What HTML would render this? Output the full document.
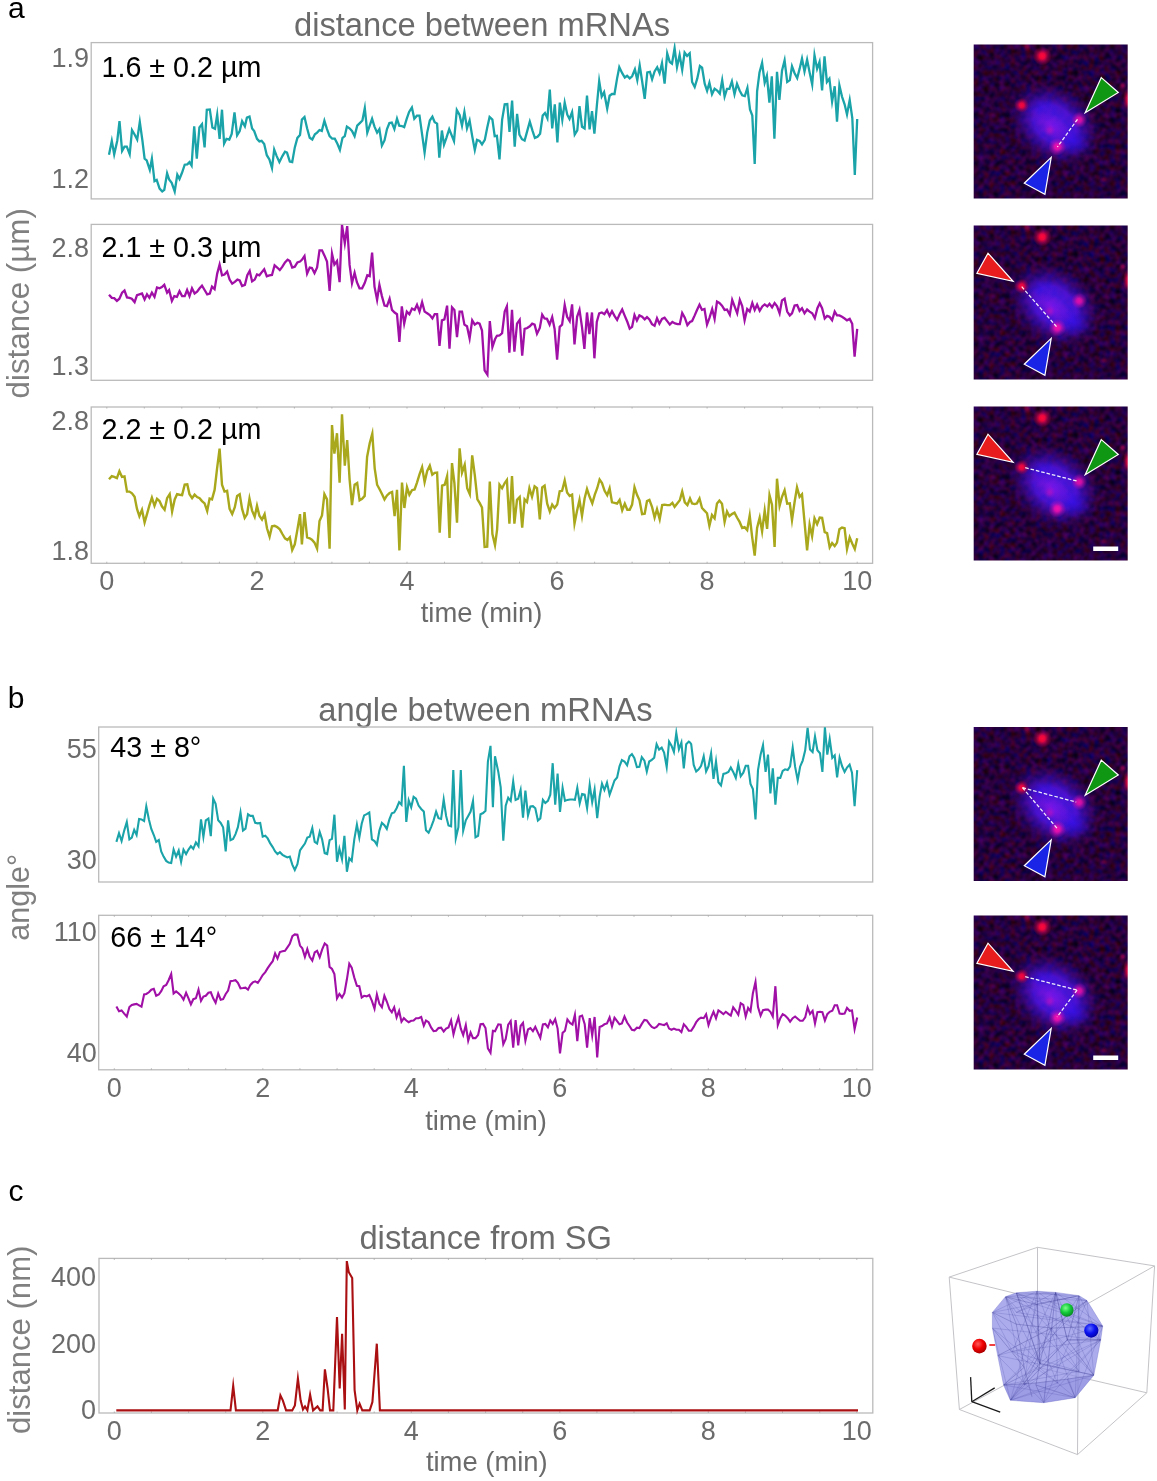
<!DOCTYPE html>
<html lang="en"><head><meta charset="utf-8"><title>mRNA distance and angle figure</title>
<style>html,body{margin:0;padding:0;background:#fff}body{width:1157px;height:1481px;overflow:hidden}svg{display:block}text{font-family:"Liberation Sans", Arial, sans-serif}</style>
</head><body>
<svg width="1157" height="1481" viewBox="0 0 1157 1481">
<defs>
<filter id="noise" x="0" y="0" width="100%" height="100%" color-interpolation-filters="sRGB">
  <feTurbulence type="fractalNoise" baseFrequency="0.19" numOctaves="2" seed="7" result="t"/>
  <feColorMatrix in="t" type="matrix" values="0.42 0 0 0 -0.095  0 0 0 0 0  0 0 0.5 0 -0.07  0 0 0 0 1" result="c"/>
  <feGaussianBlur in="c" stdDeviation="0.9"/>
</filter>
<radialGradient id="gBlob">
  <stop offset="0" stop-color="#4a1af0" stop-opacity="0.95"/>
  <stop offset="0.45" stop-color="#4414e4" stop-opacity="0.85"/>
  <stop offset="0.72" stop-color="#3a0cc0" stop-opacity="0.45"/>
  <stop offset="1" stop-color="#300890" stop-opacity="0"/>
</radialGradient>
<radialGradient id="gMag">
  <stop offset="0" stop-color="#a012e4" stop-opacity="0.55"/>
  <stop offset="1" stop-color="#9010d0" stop-opacity="0"/>
</radialGradient>
<radialGradient id="gBlue">
  <stop offset="0" stop-color="#2a10f0" stop-opacity="0.7"/>
  <stop offset="1" stop-color="#2a10e0" stop-opacity="0"/>
</radialGradient>
<radialGradient id="gRed">
  <stop offset="0" stop-color="#ff0830" stop-opacity="1"/>
  <stop offset="0.3" stop-color="#ff0630" stop-opacity="0.9"/>
  <stop offset="0.62" stop-color="#f00430" stop-opacity="0.42"/>
  <stop offset="1" stop-color="#e00030" stop-opacity="0"/>
</radialGradient>
<radialGradient id="gPink">
  <stop offset="0" stop-color="#ff10a8" stop-opacity="1"/>
  <stop offset="0.3" stop-color="#ff10a8" stop-opacity="0.85"/>
  <stop offset="0.62" stop-color="#f010b0" stop-opacity="0.4"/>
  <stop offset="1" stop-color="#e010b0" stop-opacity="0"/>
</radialGradient>
<radialGradient id="sR" cx="0.4" cy="0.35" r="0.7"><stop offset="0" stop-color="#ff5a5a"/><stop offset="0.5" stop-color="#f00000"/><stop offset="1" stop-color="#a00000"/></radialGradient>
<radialGradient id="sG" cx="0.4" cy="0.35" r="0.7"><stop offset="0" stop-color="#7dff8d"/><stop offset="0.5" stop-color="#14cc3c"/><stop offset="1" stop-color="#088020"/></radialGradient>
<radialGradient id="sB" cx="0.4" cy="0.35" r="0.7"><stop offset="0" stop-color="#5a6aff"/><stop offset="0.5" stop-color="#0a10f0"/><stop offset="1" stop-color="#0000a0"/></radialGradient>
<clipPath id="imclip"><rect x="0" y="0" width="154" height="154"/></clipPath>
<g id="micro" clip-path="url(#imclip)">
  <rect x="0" y="0" width="154" height="154" fill="#000"/>
  <rect x="-4" y="-4" width="162" height="162" filter="url(#noise)"/>
  <g transform="translate(81,80) rotate(36)">
    <ellipse cx="0" cy="0" rx="50" ry="38" fill="url(#gBlob)"/>
    <ellipse cx="-2" cy="3" rx="26" ry="12" fill="url(#gMag)"/>
    <ellipse cx="25" cy="2" rx="17" ry="14" fill="url(#gBlue)"/>
    <ellipse cx="-20" cy="-6" rx="16" ry="13" fill="url(#gBlue)" opacity="0.6"/>
  </g>
  <circle cx="68.5" cy="11.5" r="9.5" fill="url(#gRed)"/>
  <circle cx="53" cy="2" r="5" fill="url(#gRed)" opacity="0.4"/>
  <circle cx="48" cy="60.8" r="7.5" fill="url(#gRed)" opacity="0.95"/>
  <circle cx="105.5" cy="75.3" r="8" fill="url(#gPink)" opacity="0.85"/>
  <circle cx="83.6" cy="102.3" r="9" fill="url(#gPink)" opacity="0.95"/>
  <circle cx="76" cy="86" r="6" fill="url(#gPink)" opacity="0.35"/>
  <ellipse cx="154" cy="55" rx="5" ry="11" fill="url(#gRed)" opacity="0.75"/>
  <circle cx="149" cy="41" r="4" fill="url(#gRed)" opacity="0.4"/>
  <circle cx="130" cy="135" r="4" fill="url(#gRed)" opacity="0.25"/>
  <rect x="-4" y="-4" width="162" height="162" filter="url(#noise)" style="mix-blend-mode:screen" opacity="0.35"/>
</g>
<polygon id="arrG" points="127.6,33.1 144.6,48.0 111.5,68.2" fill="#0f9612" stroke="#fff" stroke-width="1.2" stroke-linejoin="miter"/>
<polygon id="arrB" points="77.5,112.9 50.6,138.7 71.2,149.9" fill="#1a24e6" stroke="#fff" stroke-width="1.2" stroke-linejoin="miter"/>
<polygon id="arrR" points="14.3,27.7 3.2,47.8 39.4,55.8" fill="#e81c1c" stroke="#fff" stroke-width="1.2" stroke-linejoin="miter"/>
<rect id="sbar" x="119.5" y="140" width="25" height="4.5" fill="#fff"/>
</defs>
<text x="8.0" y="18.3" font-size="30.0" fill="#000" text-anchor="start">a</text>
<text x="482.0" y="35.5" font-size="32.7" fill="#6b6b6b" text-anchor="middle">distance between mRNAs</text>
<rect x="91.2" y="42.6" width="781.4" height="156.3" fill="none" stroke="#bababa" stroke-width="1.3"/>
<rect x="91.2" y="224.4" width="781.4" height="155.9" fill="none" stroke="#bababa" stroke-width="1.3"/>
<rect x="91.2" y="407.0" width="781.4" height="156.3" fill="none" stroke="#bababa" stroke-width="1.3"/>
<path d="M106.8 563.3v-1.6M106.8 407.0v1.6M144.3 563.3v-1.6M144.3 407.0v1.6M181.8 563.3v-1.6M181.8 407.0v1.6M219.4 563.3v-1.6M219.4 407.0v1.6M256.9 563.3v-1.6M256.9 407.0v1.6M294.4 563.3v-1.6M294.4 407.0v1.6M331.9 563.3v-1.6M331.9 407.0v1.6M369.4 563.3v-1.6M369.4 407.0v1.6M407.0 563.3v-1.6M407.0 407.0v1.6M444.5 563.3v-1.6M444.5 407.0v1.6M482.0 563.3v-1.6M482.0 407.0v1.6M519.5 563.3v-1.6M519.5 407.0v1.6M557.0 563.3v-1.6M557.0 407.0v1.6M594.6 563.3v-1.6M594.6 407.0v1.6M632.1 563.3v-1.6M632.1 407.0v1.6M669.6 563.3v-1.6M669.6 407.0v1.6M707.1 563.3v-1.6M707.1 407.0v1.6M744.6 563.3v-1.6M744.6 407.0v1.6M782.2 563.3v-1.6M782.2 407.0v1.6M819.7 563.3v-1.6M819.7 407.0v1.6M857.2 563.3v-1.6M857.2 407.0v1.6" stroke="#a4a4a4" stroke-width="0.7" fill="none"/>
<text transform="translate(29.3,303.3) rotate(-90)" font-size="31.3" fill="#808080" text-anchor="middle">distance (µm)</text>
<text x="89.0" y="67.3" font-size="27.0" fill="#6b6b6b" text-anchor="end">1.9</text>
<text x="89.0" y="188.4" font-size="27.0" fill="#6b6b6b" text-anchor="end">1.2</text>
<text x="89.0" y="256.5" font-size="27.0" fill="#6b6b6b" text-anchor="end">2.8</text>
<text x="89.0" y="374.5" font-size="27.0" fill="#6b6b6b" text-anchor="end">1.3</text>
<text x="89.0" y="430.0" font-size="27.0" fill="#6b6b6b" text-anchor="end">2.8</text>
<text x="89.0" y="560.0" font-size="27.0" fill="#6b6b6b" text-anchor="end">1.8</text>
<text x="101.5" y="77.3" font-size="28.7" fill="#000" text-anchor="start">1.6 ± 0.2 µm</text>
<text x="101.5" y="256.6" font-size="28.7" fill="#000" text-anchor="start">2.1 ± 0.3 µm</text>
<text x="101.5" y="438.9" font-size="28.7" fill="#000" text-anchor="start">2.2 ± 0.2 µm</text>
<clipPath id="cf1"><rect x="91.2" y="42.6" width="781.4" height="156.3"/></clipPath>
<polyline points="109.0,154.7 111.8,140.8 114.2,154.3 117.3,140.5 119.5,121.1 122.1,150.9 124.5,146.6 126.8,146.6 129.7,154.3 132.0,130.1 134.6,134.5 137.2,139.6 139.8,121.8 142.4,140.5 144.6,158.7 146.7,160.4 149.8,169.9 151.9,158.7 154.5,181.1 156.7,179.9 159.6,188.6 162.2,191.5 164.3,189.8 167.1,173.3 169.1,179.4 171.7,182.9 174.7,191.5 177.3,174.7 179.5,178.9 182.1,172.5 184.7,164.7 187.3,164.4 189.5,162.1 191.6,165.6 194.2,126.3 196.8,158.7 199.4,127.5 202.0,124.1 204.6,147.4 206.8,109.7 209.8,109.4 212.4,127.5 215.0,128.7 217.2,114.6 219.6,138.8 222.0,109.7 224.1,143.6 226.5,138.8 229.3,139.6 231.7,133.9 234.5,112.5 237.1,135.3 239.7,131.0 242.1,121.1 244.9,126.3 246.9,117.7 249.5,116.6 252.1,128.4 254.2,131.0 257.0,138.8 259.4,141.4 261.6,140.8 264.2,144.0 266.8,155.2 269.4,159.5 272.0,168.2 274.2,149.5 276.7,156.1 279.4,162.1 282.4,156.1 285.0,151.7 287.0,152.6 289.8,161.6 292.2,162.1 294.8,147.4 297.4,137.9 300.0,135.0 301.9,119.6 304.5,117.0 307.1,128.3 309.7,137.8 312.3,139.5 314.9,134.3 317.1,132.6 319.5,130.0 321.8,130.9 324.4,120.8 327.0,129.1 329.6,136.1 332.2,138.7 334.8,138.7 337.4,143.8 339.9,149.9 342.5,137.8 344.8,136.1 346.9,126.6 349.5,128.3 352.0,130.9 354.6,136.1 357.2,125.7 359.8,123.1 362.4,120.5 364.8,108.1 367.3,132.6 369.7,125.7 372.1,118.8 374.5,126.6 377.1,132.6 379.4,129.1 381.9,145.6 384.5,140.4 387.0,129.1 389.4,123.1 391.8,122.6 394.4,129.1 397.0,118.8 399.2,125.7 401.8,126.0 404.2,127.1 406.7,118.8 409.1,111.9 411.9,107.5 414.3,118.8 416.9,115.7 419.5,115.7 422.1,134.3 424.6,152.5 427.2,132.6 429.8,120.5 432.4,116.7 434.7,122.2 437.1,123.6 439.3,157.7 441.9,130.5 444.0,144.7 446.4,137.8 449.2,129.1 451.6,135.2 454.0,141.2 456.8,110.1 459.6,115.0 462.0,125.7 464.4,111.9 467.0,128.3 469.6,120.5 472.2,136.1 474.8,149.9 477.0,139.9 479.6,140.9 482.0,144.4 484.8,139.9 487.2,127.8 489.6,117.0 492.4,119.6 494.7,136.1 496.9,135.8 499.5,159.3 502.1,119.9 504.7,104.3 507.3,104.0 509.5,132.0 512.1,100.5 514.7,146.7 517.1,113.8 519.4,134.6 522.0,139.2 524.6,140.6 527.2,131.1 529.8,121.6 532.4,130.3 534.9,138.0 537.5,136.8 540.1,133.7 542.7,115.6 545.0,113.0 547.4,118.2 549.8,89.6 552.2,128.5 554.8,104.3 557.4,142.4 559.8,102.6 562.3,119.9 564.7,102.6 567.3,114.7 569.5,119.0 572.1,112.1 574.7,134.6 577.3,130.3 579.5,106.1 582.0,126.8 584.6,128.5 587.0,95.7 589.6,129.4 592.0,111.2 594.4,133.7 596.8,106.1 599.2,81.0 601.7,96.6 604.1,92.2 607.2,108.7 609.6,95.7 612.0,94.0 614.5,94.0 617.1,78.4 619.3,67.2 622.2,73.2 624.8,77.5 627.1,75.8 629.7,78.4 632.1,76.3 634.9,69.4 637.3,80.1 639.7,65.4 642.1,81.0 644.7,98.8 647.3,72.4 649.9,71.8 652.1,79.3 654.6,71.5 657.2,67.2 659.6,73.2 662.0,63.2 664.6,83.6 667.2,53.3 669.8,62.0 672.0,63.7 674.6,48.2 677.0,67.2 679.6,55.1 682.2,69.8 684.6,52.5 687.1,55.9 689.7,53.3 692.1,81.9 694.7,87.0 697.3,78.4 699.9,66.0 702.1,67.7 704.7,83.6 707.1,90.8 709.4,82.7 712.0,94.3 714.6,88.8 717.2,90.5 719.8,93.6 722.2,80.1 724.6,96.6 727.0,88.8 729.4,88.8 731.9,81.5 734.5,94.3 737.0,83.9 739.6,90.5 742.2,95.3 744.8,96.0 747.4,87.9 750.0,109.5 752.3,115.6 754.7,164.0 757.1,91.4 759.5,72.4 762.1,62.8 764.7,82.7 766.9,75.8 769.4,102.6 771.8,76.3 774.4,138.6 777.0,71.8 779.4,100.0 782.0,70.6 784.6,60.3 787.2,81.9 789.8,80.1 792.0,66.3 794.6,73.2 797.2,78.1 799.6,68.9 802.0,58.5 804.5,71.5 807.1,59.7 809.6,72.4 812.2,84.5 814.5,55.1 817.1,68.9 819.5,62.0 822.1,90.5 824.5,56.3 826.9,81.9 829.4,78.7 832.1,101.7 834.7,86.2 837.0,121.6 839.4,85.3 842.0,96.6 844.6,104.3 847.0,114.4 849.7,100.0 852.3,118.2 854.8,174.9 857.2,119.0" fill="none" stroke="#1aa3a8" stroke-width="2.30" stroke-linejoin="miter" stroke-miterlimit="8" clip-path="url(#cf1)"/>
<clipPath id="cf2"><rect x="91.2" y="224.4" width="781.4" height="155.9"/></clipPath>
<polyline points="109.0,294.7 111.8,297.8 114.2,298.1 116.9,300.9 119.4,298.7 122.1,292.6 124.5,290.5 127.0,297.4 129.4,297.8 131.8,298.7 134.6,302.1 137.0,295.2 139.4,294.3 142.0,293.5 144.6,299.5 147.0,294.3 149.4,297.8 151.9,292.6 154.5,296.9 157.0,287.4 159.5,288.3 161.9,287.1 164.3,284.8 167.1,292.6 169.1,290.0 171.9,300.9 174.3,296.1 176.9,296.9 179.5,291.2 182.1,296.1 184.7,296.1 187.1,290.0 189.5,296.1 192.0,288.3 194.6,293.5 197.1,291.7 199.6,288.3 202.0,285.7 204.6,290.0 207.2,294.3 209.8,293.5 212.0,286.6 214.6,289.1 217.2,273.6 219.6,264.6 222.0,275.3 224.5,274.5 227.1,271.5 229.6,279.6 232.2,283.6 234.8,281.9 237.4,279.6 239.7,280.5 242.1,286.0 244.9,284.8 247.3,275.3 249.7,271.0 252.1,281.4 254.7,279.6 257.0,274.5 259.4,275.3 262.0,271.9 264.2,269.3 266.8,276.2 269.4,275.3 272.0,275.0 274.6,265.3 277.2,267.5 279.8,270.1 282.4,266.7 285.0,262.4 287.6,259.8 289.8,261.1 292.2,267.5 294.8,266.7 297.4,262.4 300.0,261.5 301.9,259.8 304.5,256.0 307.1,273.6 309.7,267.5 311.9,268.1 314.5,273.2 317.1,267.5 319.5,250.3 322.0,250.3 324.4,255.4 327.0,261.5 329.6,290.9 332.0,253.7 334.4,264.6 337.0,261.1 339.6,282.2 342.0,224.8 344.8,243.3 347.2,226.1 349.6,264.9 352.0,283.1 354.6,272.7 356.9,282.2 359.5,288.3 362.1,288.3 364.7,283.1 367.3,275.3 369.7,276.2 372.1,252.5 374.5,286.6 377.1,299.9 379.4,284.8 381.9,296.1 384.5,305.6 387.0,306.1 389.6,298.7 392.0,309.9 394.6,312.5 397.0,314.2 399.4,341.9 401.8,306.4 404.2,323.7 406.8,311.6 409.4,314.2 412.0,308.5 414.6,309.9 417.0,304.7 419.5,311.6 422.1,302.1 424.6,311.6 427.2,313.3 429.8,315.1 432.4,318.5 434.7,314.2 437.1,314.2 439.5,345.8 441.9,320.3 444.4,319.4 447.1,305.6 449.5,348.8 452.0,307.3 454.4,309.9 457.0,337.2 459.6,311.6 462.0,311.6 464.4,324.6 467.0,326.3 469.6,338.4 472.2,320.3 474.8,324.6 477.4,322.9 479.6,323.7 482.0,330.6 484.6,370.4 487.4,374.7 489.8,321.1 492.4,347.1 495.0,339.3 496.9,335.8 499.5,335.5 502.1,333.2 504.7,311.6 506.9,306.4 509.4,352.8 512.0,309.9 514.4,351.7 517.0,323.7 519.7,319.9 522.2,355.7 524.6,328.9 527.2,328.0 529.8,326.3 532.2,323.7 534.6,324.6 537.0,333.7 539.8,328.0 542.2,314.7 544.6,318.5 547.0,318.9 549.6,324.6 552.2,317.1 554.6,328.9 557.1,359.7 559.7,326.8 562.1,324.6 564.7,305.0 567.1,316.8 569.7,321.1 572.1,304.4 574.5,344.5 577.1,316.8 579.5,309.9 582.0,327.2 584.4,348.8 587.0,312.5 589.4,334.1 592.0,312.5 594.4,358.3 596.8,322.0 599.2,313.3 601.8,312.5 604.4,314.2 607.0,310.2 609.6,315.9 612.0,311.3 614.5,315.9 617.1,319.9 619.6,314.2 622.2,309.5 624.8,315.9 627.4,322.0 629.7,328.6 632.1,326.8 634.5,315.1 636.9,320.6 639.4,315.4 642.1,316.8 644.7,319.4 647.0,317.1 649.4,319.4 652.0,324.1 654.6,325.8 657.0,318.2 659.4,323.7 662.0,318.9 664.6,317.7 667.2,321.1 669.8,324.6 672.4,322.0 675.0,323.4 677.6,324.1 679.8,324.1 682.2,313.0 684.8,317.7 687.4,325.1 690.0,322.0 692.1,321.1 694.7,315.4 696.9,310.2 699.5,304.7 702.0,309.9 704.5,309.0 707.0,324.6 709.4,318.2 712.2,309.0 714.6,318.9 717.0,301.6 719.4,303.0 722.0,305.6 724.6,309.9 727.0,309.5 729.8,314.7 732.2,299.9 734.6,306.4 737.2,313.3 739.8,299.9 742.2,306.1 744.6,320.3 747.2,309.0 749.7,311.6 752.3,303.0 754.7,309.9 757.1,304.7 759.7,310.8 762.3,306.4 764.7,304.4 767.3,306.4 769.5,303.8 772.1,307.3 774.6,303.0 777.1,306.4 779.6,313.3 782.0,300.4 784.6,298.7 787.2,311.6 789.8,315.4 792.0,313.3 794.6,305.6 797.2,305.0 799.6,310.8 802.0,308.2 804.5,313.3 807.1,309.5 809.6,311.6 812.2,313.3 814.8,318.2 817.4,308.2 819.7,303.3 822.1,308.2 824.7,318.5 827.1,315.9 829.5,316.8 832.1,320.3 834.7,311.6 837.0,315.4 839.4,315.4 842.0,316.8 844.6,318.5 847.0,320.3 849.7,318.9 852.2,323.7 854.6,356.6 857.2,328.9" fill="none" stroke="#a00fa6" stroke-width="2.30" stroke-linejoin="miter" stroke-miterlimit="8" clip-path="url(#cf2)"/>
<clipPath id="cf3"><rect x="91.2" y="407.0" width="781.4" height="156.3"/></clipPath>
<polyline points="109.0,479.2 111.8,476.1 114.2,476.9 116.9,478.1 119.4,471.2 122.0,476.9 124.5,476.4 127.0,491.6 129.4,491.6 132.0,493.3 134.6,496.8 137.0,508.9 139.4,516.2 142.0,509.8 144.6,522.4 147.0,514.1 149.4,505.4 151.9,497.7 154.5,505.8 157.0,498.9 159.5,501.1 161.9,506.3 164.6,509.8 167.1,498.2 169.7,494.2 172.1,511.5 174.7,499.4 177.1,494.2 179.7,494.7 182.1,495.1 184.7,484.7 187.3,484.4 189.5,494.2 192.1,498.2 194.6,494.7 197.1,497.1 199.6,498.2 202.0,501.1 204.6,503.4 207.2,511.0 209.6,498.5 212.0,499.4 214.6,489.9 217.0,469.1 219.6,448.7 222.0,484.7 224.5,491.6 227.1,490.8 229.6,508.9 232.2,514.1 234.8,507.2 237.1,495.9 239.7,494.2 242.1,508.9 244.7,517.9 247.1,514.1 249.5,498.5 252.1,510.6 254.7,516.7 257.0,505.8 259.4,515.8 262.0,519.6 264.6,514.1 267.0,528.3 269.6,536.6 272.0,526.2 274.6,525.8 277.2,527.1 279.8,529.3 282.4,534.0 285.0,538.3 287.4,540.0 289.8,537.4 292.2,550.0 294.8,544.3 297.4,529.6 300.0,514.1 301.9,544.3 304.5,512.0 307.1,537.4 309.7,538.3 311.9,539.7 314.5,542.6 317.1,548.7 319.5,521.0 322.0,515.5 324.4,494.2 327.0,499.4 329.6,548.7 332.0,425.1 334.4,453.6 337.0,433.2 339.6,482.6 342.0,414.2 344.8,465.7 347.2,440.1 349.6,479.5 352.0,505.1 354.6,484.7 357.2,483.0 359.6,500.3 362.1,498.9 364.7,495.9 367.1,457.0 369.7,443.2 372.3,433.7 374.7,468.3 377.1,484.7 379.7,489.5 382.1,494.2 384.5,499.4 387.0,495.4 389.6,493.0 392.1,492.0 394.6,516.2 397.0,489.9 399.4,550.4 402.0,482.6 404.4,508.0 407.0,487.3 409.4,494.7 412.0,490.2 414.6,489.5 417.0,482.6 419.5,474.3 422.1,467.1 424.6,482.1 427.2,470.9 429.8,465.7 432.3,474.7 434.7,472.9 437.1,472.6 439.7,532.8 442.1,485.6 444.7,484.7 447.1,476.1 449.5,537.9 452.0,463.1 454.4,483.0 457.0,522.7 459.6,448.4 462.0,472.6 464.7,464.8 467.2,488.2 469.8,494.2 472.2,455.3 474.8,475.2 477.4,499.4 479.6,502.9 482.0,507.5 484.6,546.9 487.2,546.6 489.8,481.6 492.4,534.0 495.0,545.2 497.1,529.6 499.5,484.7 502.1,488.2 504.7,483.0 506.9,479.9 509.4,523.6 512.0,476.1 514.4,523.6 517.0,499.9 519.7,497.1 522.2,527.6 524.6,499.4 527.0,502.0 529.4,488.2 532.0,496.8 534.6,486.4 537.0,488.2 539.8,519.3 542.2,487.3 544.6,485.6 547.2,503.7 549.8,511.5 552.2,504.6 554.6,508.0 557.2,504.6 559.7,491.3 562.1,490.8 564.7,480.4 567.1,492.5 569.7,495.9 572.1,494.7 574.5,523.6 577.1,510.6 579.5,499.9 582.0,515.8 584.6,498.5 587.0,489.0 589.6,496.8 592.3,503.4 594.8,494.7 597.2,488.2 599.6,479.5 602.0,483.0 604.6,490.8 607.2,495.1 609.6,488.2 612.0,502.3 614.5,502.9 617.1,503.7 619.6,499.9 622.2,510.3 624.8,503.7 627.3,509.8 629.7,509.8 632.1,504.6 634.5,487.3 637.1,495.1 639.5,500.3 642.1,514.1 644.7,513.7 647.0,501.1 649.4,499.9 652.0,506.8 654.6,517.5 657.0,509.2 659.7,519.3 662.2,505.1 664.6,504.6 667.2,505.1 669.8,505.1 672.4,502.9 674.6,506.8 677.2,503.4 679.8,500.3 682.2,491.6 684.8,502.3 687.4,505.1 690.0,498.5 692.1,503.4 694.7,504.1 696.9,503.4 699.5,498.5 702.0,508.0 704.5,510.6 707.0,513.2 709.4,525.8 712.0,515.0 714.6,518.4 717.0,503.4 719.4,500.6 722.0,503.7 724.6,521.9 727.0,511.5 729.4,516.2 731.9,514.1 734.5,512.7 737.0,517.5 739.6,521.9 742.2,527.9 744.6,527.1 747.2,530.0 749.7,515.5 752.1,536.6 754.7,555.6 757.1,527.9 759.7,517.5 762.1,531.4 764.7,510.6 767.1,528.8 769.5,495.1 772.0,504.6 774.6,546.9 777.0,478.7 779.6,505.8 782.0,496.8 784.6,490.2 787.2,503.7 789.8,503.4 792.0,520.1 794.6,502.0 797.0,487.3 799.6,496.8 802.0,494.2 804.5,521.9 807.1,550.4 809.6,524.5 812.1,536.2 814.5,518.4 817.1,524.1 819.7,517.5 822.1,517.9 824.7,532.2 827.1,533.1 829.7,547.3 832.1,543.1 834.7,546.1 837.0,542.6 839.4,529.3 842.0,527.6 844.6,528.3 847.0,549.0 849.7,537.4 852.2,543.5 854.8,549.0 857.2,538.3" fill="none" stroke="#a9a81c" stroke-width="2.40" stroke-linejoin="miter" stroke-miterlimit="8" clip-path="url(#cf3)"/>
<text x="106.8" y="590.0" font-size="27.0" fill="#6b6b6b" text-anchor="middle">0</text>
<text x="256.9" y="590.0" font-size="27.0" fill="#6b6b6b" text-anchor="middle">2</text>
<text x="407.0" y="590.0" font-size="27.0" fill="#6b6b6b" text-anchor="middle">4</text>
<text x="557.0" y="590.0" font-size="27.0" fill="#6b6b6b" text-anchor="middle">6</text>
<text x="707.1" y="590.0" font-size="27.0" fill="#6b6b6b" text-anchor="middle">8</text>
<text x="857.2" y="590.0" font-size="27.0" fill="#6b6b6b" text-anchor="middle">10</text>
<text x="481.6" y="622.2" font-size="27.4" fill="#6b6b6b" text-anchor="middle">time (min)</text>
<g transform="translate(973.7,44.5)">
<use href="#micro"/>
<line x1="103.8" y1="74.8" x2="83.7" y2="102.5" stroke="#fff" stroke-opacity="0.92" stroke-width="1.25" stroke-dasharray="3.6,1.9"/>
<use href="#arrG"/>
<use href="#arrB"/>
</g>
<g transform="translate(973.7,225.5)">
<use href="#micro"/>
<line x1="48.0" y1="61.2" x2="82.8" y2="101.1" stroke="#fff" stroke-opacity="0.92" stroke-width="1.25" stroke-dasharray="3.6,1.9"/>
<use href="#arrR"/>
<use href="#arrB"/>
</g>
<g transform="translate(973.7,406.5)">
<use href="#micro"/>
<line x1="51.5" y1="61.2" x2="103.4" y2="74.6" stroke="#fff" stroke-opacity="0.92" stroke-width="1.25" stroke-dasharray="3.6,1.9"/>
<use href="#arrR"/>
<use href="#arrG"/>
<use href="#sbar"/>
</g>
<text x="7.8" y="707.8" font-size="30.0" fill="#000" text-anchor="start">b</text>
<text x="485.5" y="720.5" font-size="32.7" fill="#6b6b6b" text-anchor="middle">angle between mRNAs</text>
<rect x="98.7" y="727.0" width="774.0" height="155.0" fill="none" stroke="#bababa" stroke-width="1.3"/>
<rect x="98.7" y="915.3" width="774.0" height="154.5" fill="none" stroke="#bababa" stroke-width="1.3"/>
<path d="M114.3 1069.8v-1.6M114.3 915.3v1.6M151.4 1069.8v-1.6M151.4 915.3v1.6M188.6 1069.8v-1.6M188.6 915.3v1.6M225.7 1069.8v-1.6M225.7 915.3v1.6M262.8 1069.8v-1.6M262.8 915.3v1.6M299.9 1069.8v-1.6M299.9 915.3v1.6M337.1 1069.8v-1.6M337.1 915.3v1.6M374.2 1069.8v-1.6M374.2 915.3v1.6M411.3 1069.8v-1.6M411.3 915.3v1.6M448.4 1069.8v-1.6M448.4 915.3v1.6M485.6 1069.8v-1.6M485.6 915.3v1.6M522.7 1069.8v-1.6M522.7 915.3v1.6M559.8 1069.8v-1.6M559.8 915.3v1.6M596.9 1069.8v-1.6M596.9 915.3v1.6M634.0 1069.8v-1.6M634.0 915.3v1.6M671.2 1069.8v-1.6M671.2 915.3v1.6M708.3 1069.8v-1.6M708.3 915.3v1.6M745.4 1069.8v-1.6M745.4 915.3v1.6M782.5 1069.8v-1.6M782.5 915.3v1.6M819.7 1069.8v-1.6M819.7 915.3v1.6M856.8 1069.8v-1.6M856.8 915.3v1.6" stroke="#a4a4a4" stroke-width="0.7" fill="none"/>
<text transform="translate(29.3,897.3) rotate(-90)" font-size="30.5" fill="#808080" text-anchor="middle">angle°</text>
<text x="96.9" y="758.0" font-size="27.0" fill="#6b6b6b" text-anchor="end">55</text>
<text x="96.9" y="869.0" font-size="27.0" fill="#6b6b6b" text-anchor="end">30</text>
<text x="96.9" y="941.0" font-size="27.0" fill="#6b6b6b" text-anchor="end">110</text>
<text x="96.9" y="1062.3" font-size="27.0" fill="#6b6b6b" text-anchor="end">40</text>
<text x="110.3" y="757.2" font-size="28.7" fill="#000" text-anchor="start">43 ± 8°</text>
<text x="110.3" y="947.0" font-size="28.7" fill="#000" text-anchor="start">66 ± 14°</text>
<clipPath id="cf4"><rect x="98.7" y="727.0" width="774.0" height="155.0"/></clipPath>
<polyline points="116.4,841.9 119.0,833.2 121.6,841.0 124.2,830.6 126.8,822.0 129.4,839.3 131.8,837.5 134.2,829.8 136.6,835.0 139.1,818.9 141.5,819.4 144.1,821.1 146.3,806.4 148.9,819.4 151.3,828.9 153.8,835.0 156.2,841.9 158.8,840.1 161.2,851.4 163.6,856.6 166.2,860.9 168.6,862.6 171.2,863.1 173.6,849.6 176.1,856.6 178.7,850.5 181.1,861.7 183.5,849.6 186.1,854.0 188.5,849.6 190.9,846.2 193.3,848.8 195.9,842.4 198.5,846.2 201.0,819.4 203.4,836.7 205.8,820.3 208.4,818.5 210.8,836.2 213.2,798.7 215.6,803.8 218.2,820.3 220.7,822.9 223.1,827.2 225.7,851.4 228.1,820.3 230.5,840.1 233.1,838.9 235.5,834.1 237.9,827.2 240.5,812.5 243.0,830.6 245.5,828.6 248.0,814.2 250.4,815.9 252.8,815.9 255.2,822.9 257.8,823.4 260.2,822.9 262.7,836.7 265.3,835.8 267.7,838.4 270.1,843.1 272.7,847.1 275.1,851.4 277.5,854.0 279.9,852.2 282.5,854.8 285.0,856.2 287.4,857.4 289.8,856.6 292.4,864.9 294.8,870.0 297.4,864.3 300.0,850.5 302.3,847.1 304.9,843.6 307.3,837.5 309.7,836.7 312.3,828.0 314.7,841.9 317.1,843.6 319.7,832.0 322.1,839.3 324.7,853.1 327.2,854.0 329.6,840.1 332.0,838.9 334.4,814.7 337.0,861.7 339.4,848.8 342.0,859.2 344.4,835.8 346.9,871.8 349.3,858.3 351.7,860.9 354.3,839.3 356.9,824.6 359.3,837.5 361.7,823.7 364.1,815.4 366.7,814.2 369.3,812.5 371.9,839.3 374.5,841.0 376.9,844.8 379.4,830.6 381.9,822.9 384.4,825.1 386.8,828.9 389.4,819.4 391.8,813.3 394.2,812.5 396.6,808.2 399.1,802.1 401.5,804.7 403.9,765.8 406.3,822.0 408.7,800.4 411.2,807.3 413.6,796.9 416.0,798.7 418.6,805.6 421.2,809.0 423.8,811.6 426.0,830.3 428.6,832.7 431.2,826.8 433.6,820.3 436.1,811.6 438.5,818.2 441.1,818.9 443.7,799.5 446.1,815.9 448.5,825.4 451.1,826.3 453.3,770.1 455.8,838.4 458.4,827.2 460.8,770.1 463.2,830.6 465.8,820.3 468.2,815.9 470.6,811.6 473.0,800.9 475.5,837.2 478.1,835.8 480.5,814.2 483.1,813.0 485.5,810.8 487.9,761.5 490.5,745.9 492.9,807.3 495.0,756.3 498.3,771.9 500.7,787.4 503.3,840.7 505.7,805.6 508.2,797.8 510.7,800.9 513.2,781.4 515.6,799.9 518.2,798.7 520.6,790.0 523.0,817.7 525.4,790.5 528.0,815.4 530.4,806.4 532.9,806.1 535.3,808.2 537.9,820.6 540.3,818.5 542.9,799.9 545.3,803.0 547.9,800.9 550.3,794.7 552.7,763.2 555.2,804.7 557.6,773.6 560.0,812.0 562.6,787.8 565.0,800.9 567.4,799.9 570.0,799.5 572.5,799.5 574.9,799.9 577.3,787.8 579.7,803.3 582.1,794.0 584.7,794.7 587.1,808.2 589.7,784.8 592.2,802.1 594.6,789.5 597.2,818.2 599.6,796.9 602.0,783.6 604.4,790.0 607.0,782.6 609.6,794.7 612.0,787.8 614.5,780.5 617.1,777.4 619.5,766.3 621.9,760.1 624.5,761.5 627.1,765.3 629.5,756.3 631.9,754.2 634.3,758.0 636.9,767.0 639.4,766.7 641.8,757.2 644.4,760.6 646.8,771.5 649.2,761.5 651.8,759.8 654.2,757.7 656.6,744.2 659.1,749.7 661.7,747.7 664.1,752.5 666.7,767.0 669.1,741.6 671.5,745.6 673.9,752.0 676.3,733.0 678.9,749.4 681.4,742.5 683.8,768.4 686.2,744.2 688.8,741.6 690.0,742.5 691.2,744.2 693.7,764.9 696.2,771.5 698.7,769.3 701.1,765.8 703.7,756.3 706.1,771.5 708.5,766.3 711.1,753.2 713.5,778.8 716.0,761.5 718.4,782.2 721.0,785.3 723.4,773.9 725.8,773.2 728.4,771.9 730.8,767.5 733.2,771.9 735.8,777.9 738.3,764.1 740.7,776.2 743.3,772.7 745.7,765.8 748.1,765.8 750.5,784.0 752.9,789.1 755.5,819.4 758.0,770.1 760.6,754.6 763.0,745.1 765.6,771.9 768.0,754.6 770.4,793.5 772.8,768.4 775.4,804.7 777.8,777.9 780.3,777.9 782.7,771.0 785.1,769.3 787.7,770.1 790.1,766.3 792.7,747.7 795.1,766.7 797.7,780.2 800.1,766.7 802.7,760.6 805.2,750.3 807.6,727.8 810.0,749.4 812.6,752.0 815.0,736.4 817.4,750.3 820.0,753.2 822.4,771.9 824.9,727.3 827.3,754.6 829.7,739.0 832.3,758.0 834.7,755.4 837.1,777.4 839.6,757.7 842.1,766.3 844.6,771.9 847.0,767.5 849.6,764.6 852.0,772.7 854.6,806.1 857.2,770.1" fill="none" stroke="#1aa3a8" stroke-width="2.10" stroke-linejoin="miter" stroke-miterlimit="8" clip-path="url(#cf4)"/>
<clipPath id="cf5"><rect x="98.7" y="915.3" width="774.0" height="154.5"/></clipPath>
<polyline points="116.4,1006.6 119.0,1011.3 121.6,1010.4 124.2,1013.6 126.8,1016.5 129.4,1007.0 131.8,1004.9 134.2,1004.4 136.6,1003.9 139.1,1005.3 141.5,1006.6 144.1,994.5 146.3,994.0 148.9,992.3 151.3,989.7 153.8,988.8 156.2,995.8 158.8,994.5 161.2,991.1 163.6,986.2 166.2,984.9 168.6,980.2 171.2,974.1 173.6,993.5 176.1,991.4 178.7,993.5 181.1,995.8 183.5,999.7 186.1,992.8 188.5,998.3 190.9,1004.4 193.3,999.2 195.9,998.3 198.5,989.7 201.0,1000.9 203.4,996.6 205.8,995.8 208.4,992.8 210.8,992.3 213.2,998.3 215.6,1002.7 218.2,993.5 220.7,999.7 223.1,999.2 225.7,994.0 228.1,990.6 230.5,981.1 233.1,980.7 235.5,980.2 237.9,982.8 240.5,988.3 243.0,988.0 245.5,987.6 248.0,989.7 250.4,984.9 252.8,982.4 255.2,981.4 257.8,982.8 260.2,979.3 262.7,975.0 265.3,972.1 267.7,968.1 270.1,964.6 272.7,961.2 275.1,953.4 277.5,958.6 279.9,952.0 282.5,951.3 285.0,950.8 287.4,947.4 289.8,943.9 292.4,936.1 294.8,934.4 297.4,934.7 300.0,945.6 302.3,948.2 304.9,956.9 307.3,949.1 309.7,956.9 312.3,960.7 314.7,952.5 317.1,950.8 319.7,957.2 322.1,949.6 324.7,943.4 327.2,945.6 329.6,966.9 332.0,969.0 334.4,974.1 337.0,998.3 339.4,994.0 342.0,997.5 344.4,993.2 346.9,979.3 349.3,963.8 351.7,967.6 354.3,977.6 356.9,985.9 359.3,986.2 361.7,997.5 364.1,995.8 366.7,996.3 369.3,994.9 371.9,1000.9 374.5,1008.7 376.9,994.5 379.4,1003.9 381.9,1007.3 384.4,995.8 386.8,1001.5 389.4,1009.1 391.8,1012.2 394.2,1007.3 396.6,1017.4 399.1,1010.8 401.5,1021.7 403.9,1018.2 406.3,1020.5 408.7,1022.2 411.2,1020.8 413.6,1020.5 416.0,1018.2 418.6,1018.2 421.2,1017.0 423.8,1025.7 426.0,1020.5 428.6,1022.2 431.2,1027.7 433.6,1031.2 436.1,1030.8 438.5,1028.1 441.1,1027.7 443.7,1031.5 446.1,1028.6 448.5,1027.4 451.1,1020.5 453.5,1034.3 455.9,1025.1 458.4,1017.4 460.8,1028.6 463.2,1035.0 465.8,1025.1 468.2,1040.7 470.6,1032.6 473.0,1038.1 475.5,1038.1 478.1,1035.0 480.5,1024.3 483.1,1023.9 485.5,1028.1 487.9,1048.5 490.5,1052.8 492.9,1030.8 495.0,1031.2 498.3,1024.3 500.7,1024.6 503.3,1044.2 505.7,1039.0 508.2,1024.6 510.7,1021.2 513.2,1047.6 515.6,1020.0 518.2,1045.4 520.6,1026.0 523.0,1022.9 525.4,1040.7 528.0,1029.5 530.4,1028.1 532.9,1031.2 535.3,1026.9 537.9,1032.6 540.3,1037.8 542.9,1024.3 545.3,1023.9 547.9,1027.4 550.3,1020.5 552.7,1023.9 555.2,1019.1 557.6,1028.6 560.0,1053.3 562.6,1032.9 565.0,1030.8 567.4,1019.4 570.0,1022.9 572.5,1024.6 574.9,1014.8 577.3,1041.2 579.7,1016.5 582.1,1015.6 584.7,1024.3 587.1,1047.6 589.7,1018.2 592.2,1035.5 594.6,1017.0 597.2,1057.5 599.6,1026.9 602.0,1026.0 604.4,1024.3 607.0,1023.4 609.6,1017.4 612.0,1026.3 614.5,1017.7 617.1,1021.2 619.5,1024.3 621.9,1023.4 624.5,1016.5 627.1,1022.5 629.5,1026.0 631.9,1029.8 634.3,1030.3 636.9,1027.7 639.4,1028.1 641.8,1023.9 644.4,1020.0 646.8,1020.5 649.2,1023.9 651.8,1026.9 654.2,1028.1 656.6,1026.9 659.1,1023.9 661.7,1024.6 664.1,1025.1 666.7,1023.4 669.1,1028.6 671.5,1029.8 673.9,1028.6 676.3,1029.8 678.9,1029.8 681.4,1032.1 683.8,1024.3 686.2,1026.9 688.8,1030.8 690.0,1030.8 691.2,1030.8 693.7,1026.9 696.2,1022.2 698.7,1019.1 701.1,1017.7 703.7,1018.2 706.1,1014.2 708.5,1025.1 711.1,1017.4 713.5,1011.8 716.0,1018.2 718.4,1010.4 721.0,1012.2 723.4,1014.2 725.8,1011.8 728.4,1013.9 730.8,1015.6 733.2,1007.3 735.8,1010.8 738.3,1014.8 740.7,1003.2 743.3,1004.9 745.7,1016.5 748.1,1007.9 750.5,1011.3 752.9,993.2 755.5,981.9 758.0,1007.0 760.6,1015.6 763.0,1010.1 765.6,1009.6 768.0,1009.6 770.4,1011.8 772.8,1016.5 775.4,986.2 777.8,1025.1 780.3,1018.2 782.7,1014.2 785.1,1015.6 787.7,1018.2 790.1,1021.7 792.7,1018.2 795.1,1016.5 797.7,1018.7 800.1,1020.8 802.7,1020.8 805.2,1017.4 807.6,1007.3 810.0,1013.9 812.6,1010.8 815.0,1023.4 817.4,1012.2 820.0,1011.8 822.4,1012.2 824.9,1020.5 827.3,1014.2 829.7,1011.8 832.3,1010.8 834.7,1005.3 837.1,1005.3 839.6,1013.6 842.1,1013.9 844.6,1013.6 847.0,1007.9 849.6,1010.8 852.0,1010.4 854.6,1029.1 857.2,1017.4" fill="none" stroke="#a00fa6" stroke-width="2.10" stroke-linejoin="miter" stroke-miterlimit="8" clip-path="url(#cf5)"/>
<text x="114.3" y="1096.5" font-size="27.0" fill="#6b6b6b" text-anchor="middle">0</text>
<text x="262.8" y="1096.5" font-size="27.0" fill="#6b6b6b" text-anchor="middle">2</text>
<text x="411.3" y="1096.5" font-size="27.0" fill="#6b6b6b" text-anchor="middle">4</text>
<text x="559.8" y="1096.5" font-size="27.0" fill="#6b6b6b" text-anchor="middle">6</text>
<text x="708.3" y="1096.5" font-size="27.0" fill="#6b6b6b" text-anchor="middle">8</text>
<text x="856.8" y="1096.5" font-size="27.0" fill="#6b6b6b" text-anchor="middle">10</text>
<text x="486.0" y="1130.0" font-size="27.4" fill="#6b6b6b" text-anchor="middle">time (min)</text>
<g transform="translate(973.7,727.0)">
<use href="#micro"/>
<line x1="48.8" y1="60.7" x2="102.5" y2="75.1" stroke="#fff" stroke-opacity="0.92" stroke-width="1.25" stroke-dasharray="3.6,1.9"/>
<line x1="48.8" y1="60.7" x2="83.4" y2="101.4" stroke="#fff" stroke-opacity="0.92" stroke-width="1.25" stroke-dasharray="3.6,1.9"/>
<use href="#arrG"/>
<use href="#arrB"/>
</g>
<g transform="translate(973.7,915.5)">
<use href="#micro"/>
<line x1="51.5" y1="61.2" x2="103.4" y2="74.6" stroke="#fff" stroke-opacity="0.92" stroke-width="1.25" stroke-dasharray="3.6,1.9"/>
<line x1="103.4" y1="74.6" x2="83.4" y2="101.4" stroke="#fff" stroke-opacity="0.92" stroke-width="1.25" stroke-dasharray="3.6,1.9"/>
<use href="#arrR"/>
<use href="#arrB"/>
<use href="#sbar"/>
</g>
<text x="8.6" y="1200.9" font-size="30.0" fill="#000" text-anchor="start">c</text>
<text x="485.7" y="1249.4" font-size="32.7" fill="#6b6b6b" text-anchor="middle">distance from SG</text>
<rect x="99.0" y="1258.4" width="773.8" height="154.6" fill="none" stroke="#bababa" stroke-width="1.3"/>
<path d="M114.3 1413.0v-1.6M114.3 1258.4v1.6M151.4 1413.0v-1.6M151.4 1258.4v1.6M188.6 1413.0v-1.6M188.6 1258.4v1.6M225.7 1413.0v-1.6M225.7 1258.4v1.6M262.8 1413.0v-1.6M262.8 1258.4v1.6M299.9 1413.0v-1.6M299.9 1258.4v1.6M337.1 1413.0v-1.6M337.1 1258.4v1.6M374.2 1413.0v-1.6M374.2 1258.4v1.6M411.3 1413.0v-1.6M411.3 1258.4v1.6M448.4 1413.0v-1.6M448.4 1258.4v1.6M485.6 1413.0v-1.6M485.6 1258.4v1.6M522.7 1413.0v-1.6M522.7 1258.4v1.6M559.8 1413.0v-1.6M559.8 1258.4v1.6M596.9 1413.0v-1.6M596.9 1258.4v1.6M634.0 1413.0v-1.6M634.0 1258.4v1.6M671.2 1413.0v-1.6M671.2 1258.4v1.6M708.3 1413.0v-1.6M708.3 1258.4v1.6M745.4 1413.0v-1.6M745.4 1258.4v1.6M782.5 1413.0v-1.6M782.5 1258.4v1.6M819.7 1413.0v-1.6M819.7 1258.4v1.6M856.8 1413.0v-1.6M856.8 1258.4v1.6" stroke="#a4a4a4" stroke-width="0.7" fill="none"/>
<text transform="translate(30.2,1339.8) rotate(-90)" font-size="31.1" fill="#808080" text-anchor="middle">distance (nm)</text>
<text x="96.0" y="1286.3" font-size="27.0" fill="#6b6b6b" text-anchor="end">400</text>
<text x="96.0" y="1353.0" font-size="27.0" fill="#6b6b6b" text-anchor="end">200</text>
<text x="96.0" y="1419.0" font-size="27.0" fill="#6b6b6b" text-anchor="end">0</text>
<text x="114.3" y="1439.6" font-size="27.0" fill="#6b6b6b" text-anchor="middle">0</text>
<text x="262.8" y="1439.6" font-size="27.0" fill="#6b6b6b" text-anchor="middle">2</text>
<text x="411.3" y="1439.6" font-size="27.0" fill="#6b6b6b" text-anchor="middle">4</text>
<text x="559.8" y="1439.6" font-size="27.0" fill="#6b6b6b" text-anchor="middle">6</text>
<text x="708.3" y="1439.6" font-size="27.0" fill="#6b6b6b" text-anchor="middle">8</text>
<text x="856.8" y="1439.6" font-size="27.0" fill="#6b6b6b" text-anchor="middle">10</text>
<text x="486.8" y="1471.0" font-size="27.4" fill="#6b6b6b" text-anchor="middle">time (min)</text>
<polyline points="116.3,1410.4 230.5,1410.4 233.2,1385.8 235.9,1410.4 277.7,1410.4 280.4,1395.3 282.8,1400.3 286.1,1410.4 292.2,1410.4 294.9,1405.4 297.9,1378.4 300.6,1400.3 303.0,1409.4 305.0,1406.4 307.4,1410.4 310.1,1394.6 313.1,1410.4 317.5,1406.4 320.2,1410.4 322.6,1410.4 324.9,1369.3 327.6,1388.5 330.0,1410.4 333.3,1410.4 337.0,1317.1 339.7,1388.5 342.1,1333.9 344.8,1409.5 346.8,1261.1 348.8,1272.2 352.2,1278.0 354.6,1390.2 357.3,1410.4 359.6,1403.7 362.3,1410.4 369.7,1410.4 372.4,1402.0 376.8,1343.7 379.9,1410.4 858.0,1410.4" fill="none" stroke="#aa0f12" stroke-width="2.1" stroke-linejoin="miter" stroke-miterlimit="10"/>
<line x1="1037.5" y1="1247.3" x2="949.2" y2="1277.1" stroke="#c4c4c8" stroke-width="1.00"/>
<line x1="1037.5" y1="1247.3" x2="1154.6" y2="1265.9" stroke="#c4c4c8" stroke-width="1.00"/>
<line x1="949.2" y1="1277.1" x2="1078.5" y2="1308.9" stroke="#c4c4c8" stroke-width="1.00"/>
<line x1="1154.6" y1="1265.9" x2="1078.5" y2="1308.9" stroke="#c4c4c8" stroke-width="1.00"/>
<line x1="1037.5" y1="1247.3" x2="1037.5" y2="1367.3" stroke="#c4c4c8" stroke-width="1.00"/>
<line x1="949.2" y1="1277.1" x2="959.4" y2="1409.5" stroke="#c4c4c8" stroke-width="1.00"/>
<line x1="1154.6" y1="1265.9" x2="1146.8" y2="1392.8" stroke="#c4c4c8" stroke-width="1.00"/>
<line x1="1078.5" y1="1308.9" x2="1077.5" y2="1454.6" stroke="#c4c4c8" stroke-width="1.00"/>
<line x1="1037.5" y1="1367.3" x2="959.4" y2="1409.5" stroke="#c4c4c8" stroke-width="1.00"/>
<line x1="1037.5" y1="1367.3" x2="1146.8" y2="1392.8" stroke="#c4c4c8" stroke-width="1.00"/>
<line x1="959.4" y1="1409.5" x2="1077.5" y2="1454.6" stroke="#c4c4c8" stroke-width="1.00"/>
<line x1="1146.8" y1="1392.8" x2="1077.5" y2="1454.6" stroke="#c4c4c8" stroke-width="1.00"/>
<polygon points="992.4,1312.4 1005.5,1296.7 1016.3,1292.8 1036.9,1291.2 1055.6,1292.4 1079.1,1295.7 1087.0,1300.6 1102.7,1326.1 1100.7,1339.9 1093.8,1375.2 1075.2,1397.7 1043.8,1402.7 1010.4,1400.3 1003.6,1385.0 997.7,1355.6 992.4,1328.1" fill="#8c8ce6" fill-opacity="0.72" stroke="#6a6ac8" stroke-opacity="0.6" stroke-width="0.6"/>
<clipPath id="blobclip"><polygon points="992.4,1312.4 1005.5,1296.7 1016.3,1292.8 1036.9,1291.2 1055.6,1292.4 1079.1,1295.7 1087.0,1300.6 1102.7,1326.1 1100.7,1339.9 1093.8,1375.2 1075.2,1397.7 1043.8,1402.7 1010.4,1400.3 1003.6,1385.0 997.7,1355.6 992.4,1328.1"/></clipPath>
<path d="M992.4 1312.4L1036.9 1291.2M992.4 1312.4L1079.1 1295.7M992.4 1312.4L1102.7 1326.1M1005.5 1296.7L1055.6 1292.4M1005.5 1296.7L1087.0 1300.6M1005.5 1296.7L1100.7 1339.9M1016.3 1292.8L1079.1 1295.7M1016.3 1292.8L1102.7 1326.1M1016.3 1292.8L1093.8 1375.2M1036.9 1291.2L1087.0 1300.6M1036.9 1291.2L1100.7 1339.9M1036.9 1291.2L1075.2 1397.7M1055.6 1292.4L1102.7 1326.1M1055.6 1292.4L1093.8 1375.2M1055.6 1292.4L1043.8 1402.7M1079.1 1295.7L1100.7 1339.9M1079.1 1295.7L1075.2 1397.7M1079.1 1295.7L1010.4 1400.3M1087.0 1300.6L1093.8 1375.2M1087.0 1300.6L1043.8 1402.7M1087.0 1300.6L1003.6 1385.0M1102.7 1326.1L1075.2 1397.7M1102.7 1326.1L1010.4 1400.3M1102.7 1326.1L997.7 1355.6M1100.7 1339.9L1043.8 1402.7M1100.7 1339.9L1003.6 1385.0M1100.7 1339.9L992.4 1328.1M1093.8 1375.2L1010.4 1400.3M1093.8 1375.2L997.7 1355.6M1075.2 1397.7L1003.6 1385.0M1075.2 1397.7L992.4 1328.1M1043.8 1402.7L997.7 1355.6M1010.4 1400.3L992.4 1328.1M1016.3 1312.4L1102.7 1326.1M1016.3 1312.4L1055.6 1292.4M1016.3 1312.4L1005.5 1296.7M1036.9 1304.6L1010.4 1400.3M1036.9 1304.6L1102.7 1326.1M1036.9 1304.6L1016.3 1292.8M1039.9 1363.4L1016.3 1292.8M1039.9 1363.4L1005.5 1296.7M1039.9 1363.4L992.4 1312.4M1067.3 1339.9L1010.4 1400.3M1067.3 1339.9L1100.7 1339.9M1067.3 1339.9L1055.6 1292.4M1024.2 1385.0L1005.5 1296.7M1024.2 1385.0L1036.9 1291.2M1024.2 1385.0L1100.7 1339.9M1051.6 1328.1L1043.8 1402.7M1051.6 1328.1L1055.6 1292.4M1051.6 1328.1L1010.4 1400.3M1079.1 1371.3L1079.1 1295.7M1079.1 1371.3L1003.6 1385.0M1079.1 1371.3L1005.5 1296.7M1012.4 1351.6L1100.7 1339.9M1012.4 1351.6L1036.9 1291.2M1012.4 1351.6L992.4 1312.4M1057.5 1383.0L1100.7 1339.9M1057.5 1383.0L1010.4 1400.3M1057.5 1383.0L1055.6 1292.4M1035.9 1332.0L1087.0 1300.6M1035.9 1332.0L1016.3 1292.8M1035.9 1332.0L1055.6 1292.4M1016.3 1312.4L1036.9 1304.6M1036.9 1304.6L1039.9 1363.4M1039.9 1363.4L1067.3 1339.9M1067.3 1339.9L1024.2 1385.0M1024.2 1385.0L1051.6 1328.1M1051.6 1328.1L1079.1 1371.3M1079.1 1371.3L1012.4 1351.6M1012.4 1351.6L1057.5 1383.0M1057.5 1383.0L1035.9 1332.0" stroke="#3a3a96" stroke-opacity="0.28" stroke-width="0.7" fill="none" clip-path="url(#blobclip)"/>
<path d="M1005.5 1296.7L1016.3 1324.2M1016.3 1324.2L1024.2 1367.3M1024.2 1367.3L1032.0 1396.8M1036.9 1291.2L1039.9 1363.4M1039.9 1363.4L1035.9 1385.0M1016.3 1292.8L1039.9 1363.4M1055.6 1292.4L1039.9 1363.4M1039.9 1363.4L1093.8 1375.2M1039.9 1363.4L1010.4 1400.3M1003.6 1385.0L1035.9 1383.0M1035.9 1383.0L1067.3 1379.1M1067.3 1379.1L1093.8 1375.2M992.4 1328.1L1024.2 1367.3M1079.1 1295.7L1067.3 1339.9M1067.3 1339.9L1093.8 1375.2M1087.0 1300.6L1051.6 1328.1M1051.6 1328.1L997.7 1355.6M1035.9 1385.0L1043.8 1402.7M1035.9 1385.0L1075.2 1397.7M992.4 1312.4L1016.3 1324.2M1016.3 1324.2L1051.6 1328.1M1051.6 1328.1L1102.7 1326.1M1067.3 1339.9L1100.7 1339.9M1055.6 1292.4L1067.3 1339.9M1024.2 1367.3L1003.6 1385.0M1067.3 1379.1L1075.2 1397.7M1005.5 1296.7L1036.9 1304.6M1036.9 1304.6L1079.1 1295.7" stroke="#34348c" stroke-opacity="0.38" stroke-width="0.8" fill="none" clip-path="url(#blobclip)"/>
<polygon points="1003.6,1385.0 1035.9,1383.0 1067.3,1379.1 1093.8,1375.2 1075.2,1397.7 1043.8,1402.7 1010.4,1400.3" fill="#5a5ac0" fill-opacity="0.18"/>
<circle cx="979.4" cy="1346.1" r="7.3" fill="url(#sR)"/>
<circle cx="1066.9" cy="1310.0" r="6.7" fill="url(#sG)"/>
<circle cx="1091.3" cy="1330.6" r="7.1" fill="url(#sB)"/>
<line x1="989.3" y1="1345.0" x2="995.1" y2="1345.0" stroke="#ee1111" stroke-width="1.60"/>
<line x1="971.8" y1="1401.7" x2="970.6" y2="1377.1" stroke="#1a1a1a" stroke-width="1.30"/>
<line x1="971.8" y1="1401.7" x2="994.7" y2="1387.9" stroke="#1a1a1a" stroke-width="1.30"/>
<line x1="971.8" y1="1401.7" x2="1000.2" y2="1412.1" stroke="#1a1a1a" stroke-width="1.30"/>
</svg></body></html>
